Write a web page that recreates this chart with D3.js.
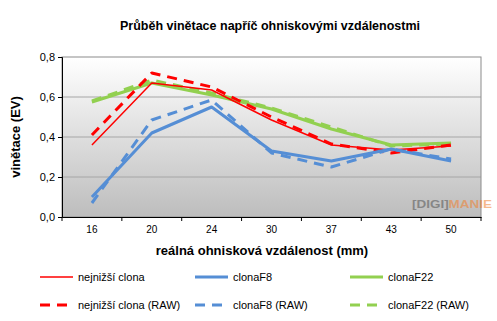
<!DOCTYPE html>
<html><head><meta charset="utf-8">
<script src="https://cdn.jsdelivr.net/npm/d3@7"></script>
<style>body{margin:0;background:#fff}svg{display:block;font-family:"Liberation Sans",Arial,sans-serif}</style>
</head><body><svg id="c" width="497" height="321"></svg>
<script>
const categories = ["16","20","24","30","37","43","50"];
const yTicks = [0,0.2,0.4,0.6,0.8];
const nejnizsi = [0.36,0.67,0.635,0.485,0.36,0.335,0.355];
const clonaF8 = [0.10,0.42,0.55,0.33,0.28,0.34,0.28];
const clonaF22 = [0.575,0.67,0.61,0.54,0.44,0.36,0.37];
const nejnizsiRaw = [0.41,0.72,0.65,0.50,0.365,0.32,0.36];
const clonaF8Raw = [0.07,0.485,0.585,0.32,0.25,0.34,0.29];
const clonaF22Raw = [0.58,0.685,0.62,0.545,0.45,0.355,0.365];
const seriesNames = ["nejnižší clona","clonaF8","clonaF22","nejnižší clona (RAW)","clonaF8 (RAW)","clonaF22 (RAW)"];

const series = [
 {name:seriesNames[0], v:nejnizsi, c:"#ff0000", w:1.5, dash:null},
 {name:seriesNames[1], v:clonaF8, c:"#558ed5", w:3, dash:null},
 {name:seriesNames[2], v:clonaF22, c:"#92d050", w:3, dash:null},
 {name:seriesNames[3], v:nejnizsiRaw, c:"#ff0000", w:3, dash:"10,7"},
 {name:seriesNames[4], v:clonaF8Raw, c:"#558ed5", w:3, dash:"10,7"},
 {name:seriesNames[5], v:clonaF22Raw, c:"#92d050", w:3, dash:"10,7"}
];
const svg = d3.select("#c");
const L=62, R=481, T=57, B=217;
const x = d3.scaleBand().domain(categories).range([L,R]);
const y = d3.scaleLinear().domain([0,0.8]).range([B,T]);

const defs = svg.append("defs");
const g = defs.append("linearGradient").attr("id","bg").attr("x1",0).attr("y1",0).attr("x2",0).attr("y2",1);
g.append("stop").attr("offset","0%").attr("stop-color","#ffffff");
g.append("stop").attr("offset","100%").attr("stop-color","#bdbdbd");
svg.append("rect").attr("x",L).attr("y",T).attr("width",R-L).attr("height",B-T).attr("fill","url(#bg)");

svg.append("g").selectAll("line").data(yTicks.slice(1,-1)).join("line")
 .attr("x1",L).attr("x2",R).attr("y1",d=>y(d)).attr("y2",d=>y(d))
 .attr("stroke","#a6a6a6").attr("stroke-width",1);
svg.append("rect").attr("x",L).attr("y",T).attr("width",R-L).attr("height",B-T)
 .attr("fill","none").attr("stroke","#8c8c8c").attr("stroke-width",1);

const yAxis = svg.append("g").attr("transform",`translate(${L},0)`)
 .call(d3.axisLeft(y).tickValues(yTicks).tickSize(4).tickFormat(d=>d3.format(".1f")(d).replace(".",",")));
yAxis.select(".domain").attr("stroke","#000");
yAxis.selectAll("text").attr("font-size",11).attr("fill","#000").attr("font-family","Liberation Sans, Arial, sans-serif");

const xAxis = svg.append("g").attr("transform",`translate(0,${B})`)
 .call(d3.axisBottom(x).tickSize(0).tickPadding(9));
xAxis.select(".domain").attr("stroke","#000");
xAxis.selectAll("text").attr("font-size",10).attr("fill","#000").attr("font-family","Liberation Sans, Arial, sans-serif");
xAxis.selectAll(".bt").data(d3.range(categories.length+1)).join("line")
 .attr("x1",i=>L+i*x.step()).attr("x2",i=>L+i*x.step()).attr("y1",0).attr("y2",4).attr("stroke","#000");

const line = d3.line().x((d,i)=>x(categories[i])+x.bandwidth()/2).y(d=>y(d));
const order = [2,5,0,3,1,4];
svg.append("g").selectAll("path").data(order.map(i=>series[i])).join("path")
 .attr("d",d=>line(d.v)).attr("fill","none").attr("stroke",d=>d.c).attr("stroke-width",d=>d.w)
 .attr("stroke-dasharray",d=>d.dash).attr("stroke-linejoin","round");

// watermark
const wm = svg.append("text").attr("x",412).attr("y",208).attr("font-size",11).attr("font-weight","bold").attr("opacity",0.55)
 .attr("textLength",80).attr("lengthAdjust","spacingAndGlyphs");
wm.append("tspan").attr("fill","#555").text("[DIGI]");
wm.append("tspan").attr("fill","#f08030").text("MANIE");

svg.append("text").attr("x",270).attr("y",30).attr("text-anchor","middle").attr("font-size",12.5).attr("font-weight","bold").text("Průběh vinětace napříč ohniskovými vzdálenostmi");
svg.append("text").attr("x",262).attr("y",255).attr("text-anchor","middle").attr("font-size",13).attr("font-weight","bold").text("reálná ohnisková  vzdálenost (mm)");
svg.append("text").attr("transform","translate(20,137) rotate(-90)").attr("text-anchor","middle").attr("font-size",13).attr("font-weight","bold").text("vinětace (EV)");

const lg = svg.append("g");
series.forEach((s,i)=>{
  const col=i%3,row=Math.floor(i/3);
  const lx=[40,195,350][col], ly=[277,305][row];
  lg.append("line").attr("x1",lx).attr("x2",lx+33).attr("y1",ly).attr("y2",ly)
    .attr("stroke",s.c).attr("stroke-width",s.w).attr("stroke-dasharray",s.dash?"10,7":null);
  lg.append("text").attr("x",lx+38).attr("y",ly+4).attr("font-size",11).text(s.name);
});
</script></body></html>
